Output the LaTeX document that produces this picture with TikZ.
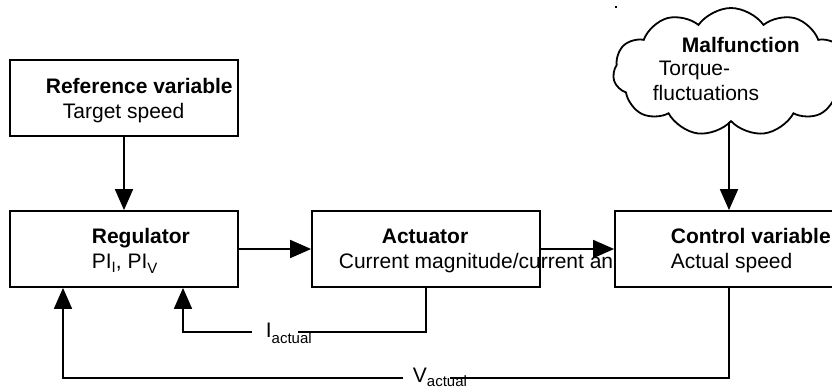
\documentclass[tikz,border=0pt]{standalone}
\usepackage{fontspec}
\setmainfont{Liberation Sans}
\usetikzlibrary{shapes.symbols,arrows.meta}
\newcommand\lowsub[2]{\raisebox{-#1}{\fontsize{15}{15}\selectfont #2}}
\begin{document}
\begin{tikzpicture}[x=1pt,y=-1pt, line width=1.8pt,
  box/.style={draw, fill=white, minimum width=228pt, minimum height=76pt, inner sep=0pt},
  txt/.style={anchor=base west, inner sep=0pt, font=\fontsize{21}{24}\selectfont},
  btxt/.style={anchor=base west, inner sep=0pt, font=\fontsize{21}{24}\selectfont\bfseries},
  arr/.style={-{Triangle[length=21pt,width=18pt]}, line join=miter}]
\useasboundingbox (0,0) rectangle (832,389);
% stray dot
\node[fill, inner sep=0pt, minimum size=2.5pt] (dot) at (616,7) {};
% boxes
\node[box] (ref) at (124,98) {};
\node[btxt] (reft) at (45,93) {Reference variable};
\node[txt] (refs) at (62,118) {Target speed};
\node[box] (reg) at (124,249) {};
\node[btxt] (regt) at (91,243) {Regulator};
\node[txt] (regs) at (91,268) {PI\lowsub{4pt}{I}, PI\lowsub{5pt}{V}};
\node[box] (act) at (426,249) {};
\node[btxt] (actt) at (381,243) {Actuator};
\node[txt] (acts) at (338,268) {Current magnitude/current an};
\node[box] (ctl) at (729,249) {};
\node[btxt] (ctlt) at (670,243) {Control variable};
\node[txt] (ctls) at (670,268) {Actual speed};
% cloud
\node[cloud, draw, fill=white, cloud puffs=11, cloud puff arc=110, cloud ignores aspect,
      minimum width=236pt, minimum height=128pt, inner sep=0pt] (mal) at (731,72) {};
\node[btxt] (malt) at (681,52) {Malfunction};
\node[txt] (malt2) at (658,75) {Torque-};
\node[txt] (malt3) at (652,100) {fluctuations};
% forward arrows
\draw[arr] (ref) -- (reg);
\draw[arr] (reg) -- (act);
\draw[arr] (act) -- (ctl);
\draw[arr] (mal.south -| ctl.north) -- (ctl.north);
% feedback labels
\node[txt] (ilab) at (265,337) {I\lowsub{6pt}{actual}};
\node[txt] (vlab) at (412,382) {V\lowsub{4pt}{actual}};
% feedback lines
\coordinate (ia) at (298,332);
\coordinate (ib) at (252,332);
\coordinate (ic) at (183,332);
\draw (act.south) |- (ia);
\draw[arr] (ib) -- (ic) -- (ic |- reg.south);
\coordinate (va) at (450,378);
\coordinate (vb) at (403,378);
\coordinate (vc) at (63,378);
\draw (ctl.south) |- (va);
\draw[arr] (vb) -- (vc) -- (vc |- reg.south);
\end{tikzpicture}
\end{document}
